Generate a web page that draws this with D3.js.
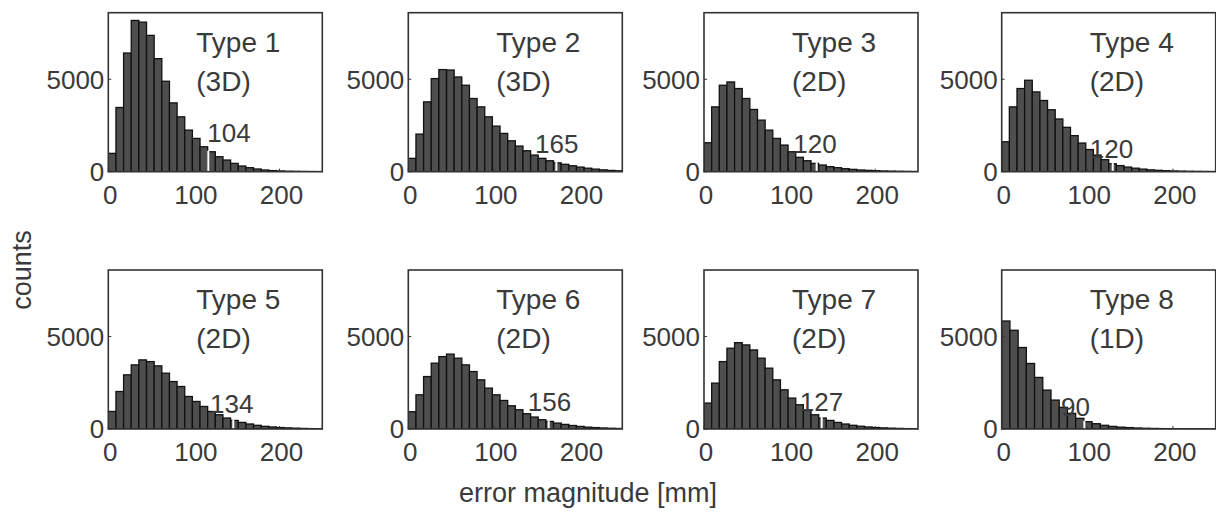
<!DOCTYPE html>
<html>
<head>
<meta charset="utf-8">
<script src="https://cdn.jsdelivr.net/npm/d3@7"></script>
<style>
  body { margin: 0; background: #fff; }
  svg { display: block; font-family: "Liberation Sans", Arial, sans-serif; }
</style>
</head>
<body>
<div id="chart"></div>
<script>
//////////////////////////// data /////////////////////////////////////////

const typeNames = ["Type 1", "Type 2", "Type 3", "Type 4", "Type 5", "Type 6", "Type 7", "Type 8"];
const typeDims = ["(3D)", "(3D)", "(2D)", "(2D)", "(2D)", "(2D)", "(2D)", "(1D)"];

// histogram counts per bin, starting at 0 mm
const countsType1 = [992, 3473, 6419, 8182, 8090, 7373, 6115, 4892, 3722, 2967, 2249, 1800, 1348, 1079, 809, 631, 450, 307, 216, 146, 92, 60, 40, 25, 18, 12, 8, 5];
const countsType2 = [722, 2033, 3776, 5037, 5523, 5500, 5124, 4676, 3959, 3506, 2967, 2465, 2071, 1672, 1386, 1133, 901, 722, 593, 480, 400, 320, 250, 190, 140, 100, 70, 50];
const countsType3 = [1564, 3506, 4676, 4854, 4498, 3959, 3366, 2789, 2249, 1801, 1440, 1079, 777, 593, 450, 361, 270, 216, 162, 126, 92, 72, 54, 40, 30, 22, 16, 10];
const countsType4 = [1618, 3506, 4498, 4946, 4315, 3850, 3350, 2850, 2400, 1950, 1550, 1200, 900, 650, 430, 330, 250, 190, 140, 100, 75, 55, 40, 30, 22, 16, 12, 8];
const countsType5 = [949, 2028, 2929, 3468, 3738, 3646, 3414, 3020, 2567, 2298, 1758, 1489, 1219, 949, 771, 593, 464, 356, 270, 200, 145, 110, 80, 60, 45, 32, 22, 15];
const countsType6 = [933, 1850, 2837, 3560, 3916, 4050, 3830, 3468, 3107, 2659, 2211, 1850, 1543, 1257, 1041, 825, 647, 502, 410, 320, 250, 190, 140, 100, 75, 55, 40, 28];
const countsType7 = [1402, 2481, 3646, 4369, 4671, 4547, 4277, 3830, 3290, 2659, 2120, 1672, 1311, 1003, 771, 593, 464, 356, 270, 200, 150, 110, 80, 60, 45, 32, 22, 15];
const countsType8 = [5841, 5340, 4407, 3544, 2789, 2104, 1564, 1170, 847, 577, 394, 286, 200, 140, 100, 75, 55, 40, 30, 22, 16, 12, 9, 7, 5, 4];
const allCounts = [countsType1, countsType2, countsType3, countsType4, countsType5, countsType6, countsType7, countsType8];

const binWidths = [8.93, 8.93, 8.93, 8.93, 8.93, 8.93, 8.93, 9.6]; // mm

// marked value and where the white cut sits
const cutLabels = [104, 165, 120, 120, 134, 156, 127, 90];
const cutPositions = [116.8, 173, 131.6, 129.7, 146, 164, 137.5, 96.5];
// where each cut label is written (mm, counts)
const labelX = [115.6, 148, 104.3, 103, 118.8, 139.5, 112, 69.3];
const labelY = [1618, 1000, 990, 723, 863, 949, 949, 680];

const xTicks = [0, 100, 200];
const yTicks = [0, 5000];
const xDomain = [0, 250];
const yDomain = [0, 8600];

//////////////////////////// sizes ////////////////////////////////////////

const width = 1216, height = 513;
const panelW = 214, panelH = 159;
const colLeft = [108.3, 408.3, 704, 1001.7];
const rowTop = [12.7, 270];

const svg = d3.select("#chart").append("svg")
  .attr("width", width).attr("height", height);

const xScale = d3.scaleLinear().domain(xDomain).range([0, panelW]);
const yScale = d3.scaleLinear().domain(yDomain).range([panelH, 0]);

const textCol = "#3a3a3a";

allCounts.forEach((counts, i) => {
  const g = svg.append("g")
    .attr("transform", `translate(${colLeft[i % 4]},${rowTop[Math.floor(i / 4)]})`);

  g.append("clipPath").attr("id", "clip" + i)
    .append("rect").attr("width", panelW).attr("height", panelH);

  const bw = binWidths[i];
  const bars = g.append("g").attr("clip-path", `url(#clip${i})`);

  bars.selectAll("rect")
    .data(counts)
    .join("rect")
    .attr("x", (d, j) => xScale(j * bw))
    .attr("width", xScale(bw) - xScale(0))
    .attr("y", d => yScale(d))
    .attr("height", d => yScale(0) - yScale(d))
    .attr("fill", "#4e4e4e")
    .attr("stroke", "#111")
    .attr("stroke-width", 1.3);

  // white cut through the bar
  const cutBin = Math.floor(cutPositions[i] / bw);
  bars.append("line")
    .attr("x1", xScale(cutPositions[i])).attr("x2", xScale(cutPositions[i]))
    .attr("y1", yScale(0)).attr("y2", yScale(counts[cutBin]) - 1)
    .attr("stroke", "#fff").attr("stroke-width", 2);

  // box
  g.append("rect")
    .attr("width", panelW).attr("height", panelH)
    .attr("fill", "none").attr("stroke", "#333").attr("stroke-width", 1.6);

  // inward ticks
  g.selectAll(".yt").data(yTicks).join("line")
    .attr("x1", 0).attr("x2", 3)
    .attr("y1", d => yScale(d)).attr("y2", d => yScale(d))
    .attr("stroke", "#333");
  g.selectAll(".xt").data(xTicks).join("line")
    .attr("x1", d => xScale(d)).attr("x2", d => xScale(d))
    .attr("y1", panelH).attr("y2", panelH - 3)
    .attr("stroke", "#333");

  // tick labels
  g.selectAll(".ytl").data(yTicks).join("text")
    .attr("x", -4).attr("y", d => yScale(d)).attr("dy", "0.36em")
    .attr("text-anchor", "end").attr("font-size", 26).attr("fill", textCol)
    .text(d => d);
  g.selectAll(".xtl").data(xTicks).join("text")
    .attr("x", d => xScale(d) + 2).attr("y", panelH + 32)
    .attr("text-anchor", "middle").attr("font-size", 26).attr("fill", textCol)
    .text(d => d);

  // type label
  g.append("text").attr("x", 88).attr("y", 39)
    .attr("font-size", 28).attr("fill", textCol).text(typeNames[i]);
  g.append("text").attr("x", 88).attr("y", 78)
    .attr("font-size", 28).attr("fill", textCol).text(typeDims[i]);

  // cut value
  g.append("text").attr("x", xScale(labelX[i])).attr("y", yScale(labelY[i]))
    .attr("font-size", 26).attr("fill", textCol).text(cutLabels[i]);
});

// axis titles
svg.append("text")
  .attr("transform", "translate(31,270) rotate(-90)")
  .attr("text-anchor", "middle").attr("font-size", 27).attr("fill", textCol)
  .text("counts");

svg.append("text")
  .attr("x", 588).attr("y", 502)
  .attr("text-anchor", "middle").attr("font-size", 27).attr("fill", textCol)
  .text("error magnitude [mm]");
</script>
</body>
</html>
